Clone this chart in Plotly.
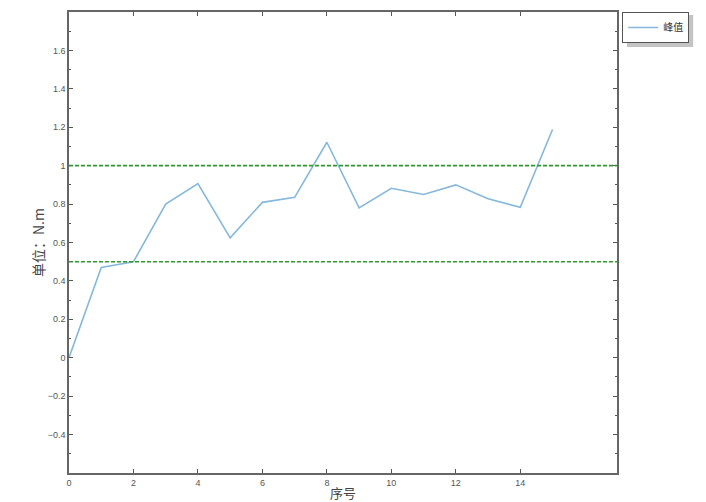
import plotly.graph_objects as go

x_idx = list(range(16))
peak = [0.0, 0.47, 0.50, 0.80, 0.907, 0.624, 0.809, 0.835, 1.122, 0.78, 0.882, 0.85, 0.90, 0.828, 0.783, 1.188]
thresholds = [1.0, 0.5]
series_name = "峰值"
x_title = "序号"
y_title = "单位：N.m"
y_ticks = [-0.4, -0.2, 0, 0.2, 0.4, 0.6, 0.8, 1, 1.2, 1.4, 1.6]
x_ticks = [0, 2, 4, 6, 8, 10, 12, 14]

fig = go.Figure()
fig.add_trace(go.Scatter(x=x_idx, y=peak, mode="lines", name=series_name,
                         line=dict(color="#85b8dc", width=1.6)))
for t in thresholds:
    fig.add_hline(y=t, line=dict(color="#2f9a2f", width=1.6, dash="4px,2px"))

# page has an 8px body margin, so the figure is drawn 8px smaller and offset
fig.update_layout(
    width=698, height=494,
    margin=dict(l=61, r=89, t=2, b=29),
    paper_bgcolor="white", plot_bgcolor="white",
    font=dict(family="Noto Sans CJK SC, Liberation Sans, sans-serif", color="#555"),
    showlegend=True,
    legend=dict(x=1.0095, y=1.0, xanchor="left", yanchor="top",
                bgcolor="white", bordercolor="#555", borderwidth=1,
                font=dict(size=10, color="#333"),
                itemwidth=30, tracegroupgap=0),
)
fig.add_shape(type="rect", xref="paper", yref="paper",
              x0=1.018, x1=1.139, y0=0.924, y1=0.9935,
              fillcolor="#c4c4c4", line=dict(width=0), layer="below")
fig.update_xaxes(range=[0, 17], tickvals=x_ticks, ticks="inside", ticklen=4,
                 tickcolor="#555", showline=True, linecolor="#666", linewidth=1.5,
                 mirror="allticks", showgrid=False, zeroline=False,
                 tickfont=dict(size=9, color="#555", family="Liberation Sans"),
                 title=dict(text=x_title, font=dict(size=13, color="#444"), standoff=2))
fig.update_yaxes(range=[-0.6, 1.8], tickvals=y_ticks,
                 ticks="inside", ticklen=4, tickcolor="#555",
                 showline=True, linecolor="#666", linewidth=1.5,
                 mirror="allticks", showgrid=False, zeroline=False,
                 minor=dict(ticks="inside", ticklen=2, dtick=0.1, tickcolor="#555"),
                 tickfont=dict(size=9, color="#555", family="Liberation Sans"),
                 title=dict(text=y_title, font=dict(size=14, color="#444"), standoff=0))

fig.write_html("out.html")
